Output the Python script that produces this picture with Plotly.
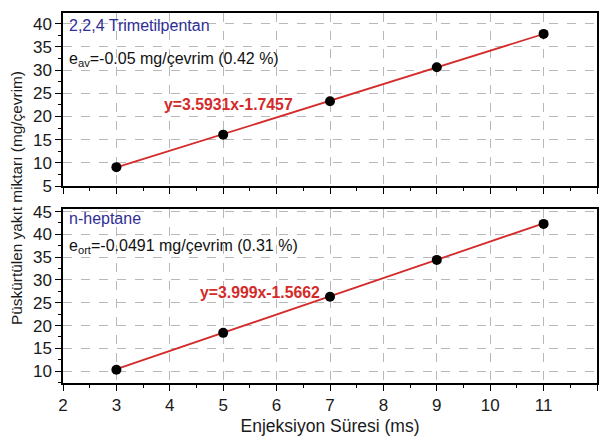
import plotly.graph_objects as go

# Injection duration (ms)
inj_time = [3, 5, 7, 9, 11]

# Injected fuel per cycle (mg/cycle)
tmp_mass = [9.1, 16.1, 23.3, 30.6, 37.8]        # 2,2,4 Trimetilpentan
hep_mass = [10.3, 18.4, 26.3, 34.4, 42.3]       # n-heptane

# Linear fit coefficients (slope, intercept)
tmp_fit = (3.5931, -1.7457)
hep_fit = (3.999, -1.5662)

x_ticks = list(range(2, 13))

FONT = "Liberation Sans, Arial, sans-serif"
RED = "#D42A2A"
BLUE = "#2E2E96"

fig = go.Figure()


def fit_line(coef, xs):
    return [coef[0] * x + coef[1] for x in xs]


fit_x = [inj_time[0], inj_time[-1]]

for xa, ya, mass, coef in (("x", "y", tmp_mass, tmp_fit),
                           ("x2", "y2", hep_mass, hep_fit)):
    fig.add_trace(go.Scatter(x=fit_x, y=fit_line(coef, fit_x), mode="lines",
                             line=dict(color=RED, width=1.8),
                             xaxis=xa, yaxis=ya, showlegend=False,
                             hoverinfo="skip"))
    fig.add_trace(go.Scatter(x=inj_time, y=mass, mode="markers",
                             marker=dict(color="black", size=10),
                             xaxis=xa, yaxis=ya, showlegend=False))

grid = dict(showgrid=True, gridcolor="#B8B8B8", griddash="dash", gridwidth=1)
axis_line = dict(showline=True, linecolor="black", linewidth=1.5, zeroline=False)
tick_font = dict(family=FONT, size=17, color="#1A1A1A")

x_common = dict(range=[2, 12], tickvals=x_ticks, ticks="outside", ticklen=6,
                tickwidth=1.3, tickcolor="black",
                minor=dict(dtick=0.5, tick0=2, ticks="outside", ticklen=3.5,
                           tickwidth=1.3, tickcolor="black", showgrid=False),
                **grid, **axis_line, mirror=True)

fig.update_layout(
    width=606, height=442,
    margin=dict(l=63, r=8, t=7, b=59),
    plot_bgcolor="white", paper_bgcolor="white",
    font=dict(family=FONT, size=16, color="#1A1A1A"),
    xaxis=dict(domain=[0, 1], anchor="y", showticklabels=False, **x_common),
    xaxis2=dict(domain=[0, 1], anchor="y2", tickfont=tick_font,
                title=dict(text="Enjeksiyon Süresi (ms)",
                           font=dict(family=FONT, size=17.5, color="#1A1A1A"),
                           standoff=6),
                **x_common),
    # inward ticks along the top edge of the lower panel
    xaxis3=dict(domain=[0, 1], anchor="y2", overlaying="x2", side="top",
                range=[2, 12], tickvals=x_ticks, ticks="inside", ticklen=6,
                tickwidth=1.3, tickcolor="black", showticklabels=False,
                showgrid=False, zeroline=False, showline=False),
    yaxis=dict(domain=[0.532, 1], anchor="x", range=[5, 42.3],
               tickvals=[5, 10, 15, 20, 25, 30, 35, 40], ticks="outside",
               ticklen=6, tickwidth=1.3, tickcolor="black", tickfont=tick_font,
               minor=dict(dtick=2.5, tick0=0, ticks="outside", ticklen=3.5,
                          tickwidth=1.3, tickcolor="black", showgrid=False),
               **grid, **axis_line, mirror=True),
    yaxis2=dict(domain=[0, 0.4707], anchor="x2", range=[7.4, 45.6],
                tickvals=[10, 15, 20, 25, 30, 35, 40, 45], ticks="outside",
                ticklen=6, tickwidth=1.3, tickcolor="black", tickfont=tick_font,
                minor=dict(dtick=2.5, tick0=0, ticks="outside", ticklen=3.5,
                           tickwidth=1.3, tickcolor="black", showgrid=False),
                **grid, **axis_line, mirror=True),
)

ann_font = dict(family=FONT, size=16, color="#111111")
annotations = [
    dict(text="2,2,4 Trimetilpentan", xref="paper", yref="paper",
         x=0.008, y=0.967, xanchor="left", yanchor="middle",
         font=dict(family=FONT, size=16, color=BLUE)),
    dict(text="e<sub>av</sub>=-0.05 mg/çevrim (0.42 %)", xref="paper", yref="paper",
         x=0.008, y=0.874, xanchor="left", yanchor="middle", font=ann_font),
    dict(text=f"<b>y={tmp_fit[0]}x{tmp_fit[1]}</b>", xref="paper", yref="paper",
         x=0.186, y=0.753, xanchor="left", yanchor="middle",
         font=dict(family=FONT, size=15.8, color=RED)),
    dict(text="n-heptane", xref="paper", yref="paper",
         x=0.008, y=0.445, xanchor="left", yanchor="middle",
         font=dict(family=FONT, size=16, color=BLUE)),
    dict(text="e<sub>ort</sub>=-0.0491 mg/çevrim (0.31 %)", xref="paper", yref="paper",
         x=0.008, y=0.368, xanchor="left", yanchor="middle", font=ann_font),
    dict(text=f"<b>y={hep_fit[0]}x{hep_fit[1]}</b>", xref="paper", yref="paper",
         x=0.252, y=0.245, xanchor="left", yanchor="middle",
         font=dict(family=FONT, size=15.8, color=RED)),
    dict(text="Püskürtülen yakıt miktarı (mg/çevrim)", xref="paper", yref="paper",
         x=-0.088, y=0.5, xanchor="center", yanchor="middle", textangle=-90,
         showarrow=False, font=dict(family=FONT, size=15.4, color="#1A1A1A")),
]
for a in annotations:
    a.setdefault("showarrow", False)
    fig.add_annotation(**a)

fig.write_html("out.html")
